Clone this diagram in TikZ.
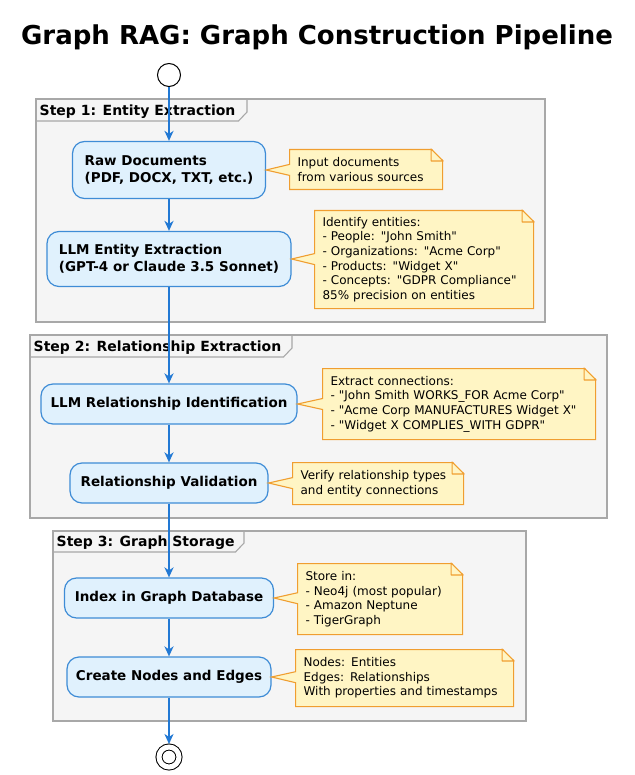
\documentclass[tikz,border=0pt]{standalone}
\usepackage{fontspec}
\newfontfamily\dvsans{DejaVu Sans}
\usepackage{tikz}
\usetikzlibrary{arrows.meta,shapes,shapes.callouts,calc}
\definecolor{flowblue}{RGB}{34,121,212}
\definecolor{boxfill}{RGB}{224,241,253}
\definecolor{boxline}{RGB}{62,140,214}
\definecolor{notefill}{RGB}{255,245,196}
\definecolor{noteline}{RGB}{240,158,48}
\definecolor{framefill}{RGB}{245,245,245}
\definecolor{frameline}{RGB}{168,168,168}
\tikzstyle{activity}=[rectangle,rounded corners=12pt,draw=boxline,fill=boxfill,line width=1.2pt,align=left,inner sep=0pt,font=\dvsans\fontsize{13.5}{17.5}\selectfont\bfseries]
\tikzstyle{note}=[rectangle callout,draw=noteline,fill=notefill,line width=1.1pt,align=left,anchor=north west,inner xsep=8pt,inner ysep=0pt,callout pointer width=11pt,font=\dvsans\fontsize{12}{14.6}\selectfont]
\tikzstyle{frame}=[draw=frameline,line width=1.1pt]
\tikzstyle{framelabel}=[anchor=base west,inner sep=0pt,font=\dvsans\fontsize{14}{16}\selectfont\bfseries]
\tikzstyle{edge}=[draw=flowblue,line width=1.8pt,-{Stealth[length=10pt,width=9pt,inset=3pt]}]
\tikzstyle{startnode}=[circle,draw=black,fill=white,line width=1pt,minimum size=23pt,inner sep=0pt]
\tikzstyle{stopnode}=[circle,draw=black,double=white,double distance=5pt,fill=white,line width=1pt,minimum size=20pt,inner sep=0pt,outer sep=3pt]

\begin{document}
\begin{tikzpicture}[x=1pt,y=-1pt]
    \fill[white] (0,0) rectangle (634,775);
    \useasboundingbox (0,0) rectangle (634,775);

    \node[anchor=base,font=\dvsans\fontsize{26}{30}\selectfont\bfseries] (title) at (317,45) {Graph RAG: Graph Construction Pipeline};

    % step frames with their tabs
    \foreach \l/\t/\r/\b/\tr/\tb/\name/\txt in {36/99/545/322/247/121/stepone/{Step 1: Entity Extraction},
            30/335/607/518/292/357/steptwo/{Step 2: Relationship Extraction},
            53/531/526/721/244/552/stepthree/{Step 3: Graph Storage}}
    {
        \draw[frame,fill=framefill] (\l,\t) rectangle (\r,\b);
        \draw[frame] (\l,\tb) -- (\tr-8.5,\tb) -- (\tr,\tb-9) -- (\tr,\t);
        \node[framelabel] (\name) at (\l+3.5,\tb-5.5) {\txt};
    }

    % activities
    \node[startnode] (start) at (169,75) {};
    \foreach \pos/\name/\bw/\bh/\txt in {{(169,170)/raw/193/57/{Raw Documents\\(PDF, DOCX, TXT, etc.)}},
            {(169,259)/llm/244/55/{LLM Entity Extraction\\(GPT-4 or Claude 3.5 Sonnet)}},
            {(169,404)/relid/256/40/{LLM Relationship Identification}},
            {(169,483)/relval/198/40/{Relationship Validation}},
            {(169,598)/index/209/40/{Index in Graph Database}},
            {(169,677)/create/204/40/{Create Nodes and Edges}}}
            \node[activity,minimum width=\bw pt,minimum height=\bh pt] (\name) at \pos {\txt};
    \node[stopnode] (stop) at (169,757) {};

    % flow
    \foreach \source/\dest in {start/raw, raw/llm, llm/relid, relid/relval, relval/index, index/create, create/stop}
            \path[edge] (\source.south) -- (\dest.north);

    % notes
    \foreach \pos/\name/\tgt/\tw/\nh/\txt in {{(289,149)/rawnote/raw/137/40/{Input documents\\from various sources}},
            {(314,210)/llmnote/llm/203/98/{Identify entities:\\- People: "John Smith"\\- Organizations: "Acme Corp"\\- Products: "Widget X"\\- Concepts: "GDPR Compliance"\\85\% precision on entities}},
            {(322,368)/relidnote/relid/257/71/{Extract connections:\\- "John Smith WORKS\_FOR Acme Corp"\\- "Acme Corp MANUFACTURES Widget X"\\- "Widget X COMPLIES\_WITH GDPR"}},
            {(292,462)/relvalnote/relval/155/42/{Verify relationship types\\and entity connections}},
            {(297,563)/indexnote/index/149/71/{Store in:\\- Neo4j (most popular)\\- Amazon Neptune\\- TigerGraph}},
            {(295,649)/createnote/create/202/57/{Nodes: Entities\\Edges: Relationships\\With properties and timestamps}}}
    {
        \node[note,text width=\tw pt,minimum height=\nh pt,callout absolute pointer={(\tgt.east)}] (\name) at \pos {\txt};
        \fill[framefill] ([xshift=-12pt,yshift=1pt]\name.north east) -- ([xshift=1pt,yshift=1pt]\name.north east) -- ([xshift=1pt,yshift=-12pt]\name.north east) -- cycle;
        \draw[noteline,line width=1.1pt,line join=round] ([xshift=-12pt]\name.north east) -- ([yshift=-12pt]\name.north east) -- ([xshift=-12pt,yshift=-12pt]\name.north east) -- cycle;
    }
\end{tikzpicture}
\end{document}
